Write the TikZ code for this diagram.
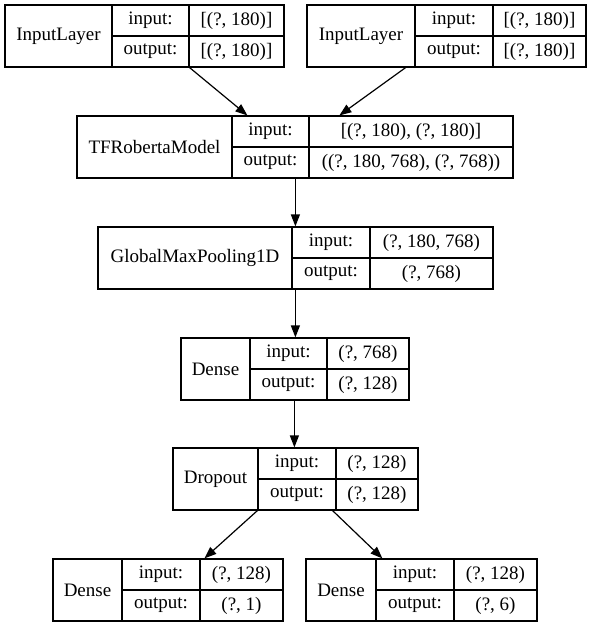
\documentclass[tikz,border=0pt]{standalone}
\usepackage{fontspec}
\setmainfont{Liberation Serif}
\usetikzlibrary{arrows.meta}

% one keras layer: name | input:/output: | shapes
\newcommand{\recordbox}[9]{%
  \pgfmathsetmacro{\ca}{(#2+#3)/2}\pgfmathsetmacro{\wa}{#3-#2}%
  \pgfmathsetmacro{\cb}{(#3+#4)/2}\pgfmathsetmacro{\wb}{#4-#3}%
  \pgfmathsetmacro{\cc}{(#4+#5)/2}\pgfmathsetmacro{\wc}{#5-#4}%
  \node[cell,minimum width=\wa pt,minimum height=62pt] (#1) at (\ca,#6+31) {#7};
  \node[cell,minimum width=\wb pt] (#1-inlbl) at (\cb,#6+15.5) {input:};
  \node[cell,minimum width=\wc pt] (#1-inval) at (\cc,#6+15.5) {#8};
  \node[cell,minimum width=\wb pt] (#1-outlbl) at (\cb,#6+46.5) {output:};
  \node[cell,minimum width=\wc pt] (#1-outval) at (\cc,#6+46.5) {#9};
}

\begin{document}
\begin{tikzpicture}[x=1pt,y=-1pt]
        \tikzstyle{cell} = [rectangle, draw=black, line width=1.2pt, inner sep=0pt, text=black, text centered, minimum height=31pt, font=\fontsize{19}{22}\selectfont]
        \tikzstyle{line} = [-{Triangle[length=12pt,width=9pt]},draw=black,line width=1.2pt]
        \useasboundingbox (0,0) rectangle (592,627);
        \recordbox{in1}{5}{112}{189}{284}{5}{InputLayer}{[(?, 180)]}{[(?, 180)]}
        \recordbox{in2}{307}{415}{493}{586}{5}{InputLayer}{[(?, 180)]}{[(?, 180)]}
        \recordbox{tf}{77}{232}{309}{513}{116}{TFRobertaModel}{[(?, 180), (?, 180)]}{((?, 180, 768), (?, 768))}
        \recordbox{gmp}{98}{292}{370}{493}{227}{GlobalMaxPooling1D}{(?, 180, 768)}{(?, 768)}
        \recordbox{dense1}{181}{250}{327}{409}{338}{Dense}{(?, 768)}{(?, 128)}
        \recordbox{drop}{173}{258}{336}{418}{448}{Dropout}{(?, 128)}{(?, 128)}
        \recordbox{dense2}{53}{122}{200}{283}{559}{Dense}{(?, 128)}{(?, 1)}
        \recordbox{dense3}{306}{376}{454}{537}{559}{Dense}{(?, 128)}{(?, 6)}
        \draw[line] (in1-outlbl.south east) to ([xshift=16pt]tf-inlbl.north west);
        \draw[line] ([xshift=-10pt]in2.south east) to ([xshift=31pt]tf-inval.north west);
        \draw[line] ([xshift=64pt]tf-outlbl.south west) to ([xshift=4pt]gmp-inlbl.north west);
        \draw[line] ([xshift=4pt]gmp-outlbl.south west) to ([xshift=46pt]dense1-inlbl.north west);
        \draw[line] ([xshift=45pt]dense1-outlbl.south west) to ([xshift=37pt]drop-inlbl.north west);
        \draw[line] (drop-outlbl.south west) to ([xshift=5pt]dense2-inval.north west);
        \draw[line] ([xshift=-4pt]drop-outlbl.south east) to ([xshift=7pt]dense3-inlbl.north west);
\end{tikzpicture}
\end{document}
